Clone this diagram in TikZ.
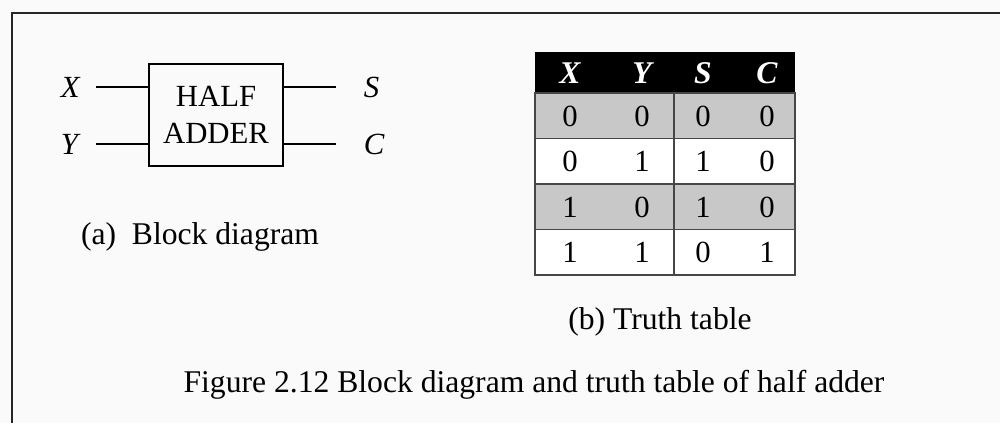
\documentclass[tikz,border=0pt]{standalone}
\usepackage{fontspec}
\setmainfont{Liberation Serif}
\usetikzlibrary{positioning}
\usetikzlibrary{calc}
\def\mysize{\fontsize{17.5}{21}\selectfont}
\def\capsize{\fontsize{18}{22}\selectfont}
\newcommand{\sig}[1]{\textit{#1}}
\definecolor{rowgray}{RGB}{200,200,200}
\definecolor{linegray}{RGB}{70,70,70}
\tikzset{
my text/.style={font=\mysize,inner sep=0pt},
frame/.style={line width=1.6pt,draw=black!85},
wire/.style={line width=1pt},
blk/.style={draw,line width=1.1pt,my text,align=center,
  minimum width=2.68cm,minimum height=2.04cm},
port/.style={my text},
tab line/.style={line width=1pt,draw=linegray},
head/.style={my text,text=white,font=\fontsize{18}{22}\selectfont\bfseries\itshape},
cell/.style={my text},
caption/.style={my text,font=\capsize,anchor=base},
}
\begin{document}
\begin{tikzpicture}[x=0.02cm,y=-0.02cm]
\useasboundingbox[fill=black!2] (0,0) rectangle (1000,423);
\draw[frame] (12,423) -- (12,13) -- (1000,13);
% (a) block diagram
\node[blk] (ha) at (216,115) {HALF\\ADDER};
\coordinate (xw) at ($(ha.west)+(-52,-28)$);
\coordinate (yw) at ($(ha.west)+(-52,29)$);
\coordinate (sw) at ($(ha.east)+(52,-28)$);
\coordinate (cw) at ($(ha.east)+(52,29)$);
\node[port,left=0.3cm of xw] (x) {\sig{X}};
\node[port,left=0.3cm of yw] (y) {\sig{Y}};
\node[port,right=0.55cm of sw] (s) {\sig{S}};
\node[port,right=0.55cm of cw] (c) {\sig{C}};
\draw[wire] (xw) -- (xw -| ha.west)
            (yw) -- (yw -| ha.west)
            (ha.east |- sw) -- (sw)
            (ha.east |- cw) -- (cw);
\node[caption] (capa) at (200,244) {(a)\ \ Block diagram};
% (b) truth table
\fill[black] (535,52) rectangle (795,93);
\foreach \r/\col in {0/rowgray,1/white,2/rowgray,3/white}
  \fill[\col] (535,93+45.5*\r) rectangle (795,138.5+45.5*\r);
\draw[tab line] (535,93) rectangle (795,275);
\foreach \r in {1,2,3}
  \draw[tab line] (535,93+45.5*\r) -- (795,93+45.5*\r);
\draw[tab line] (674,93) -- (674,275);
\foreach \n/\cx in {X/570,Y/642,S/703,C/767}
  \node[head] (h\n) at (\cx,73) {\n};
\foreach \r/\a/\b/\s/\c in {0/0/0/0/0,1/0/1/1/0,2/1/0/1/0,3/1/1/0/1}{
  \node[cell] (r\r-x) at (570,116+45.5*\r) {\a};
  \node[cell] (r\r-y) at (642,116+45.5*\r) {\b};
  \node[cell] (r\r-s) at (703,116+45.5*\r) {\s};
  \node[cell] (r\r-c) at (767,116+45.5*\r) {\c};
}
\node[caption] (capb) at (660,329) {(b) Truth table};
\node[caption] (fig) at (534,392) {Figure 2.12 Block diagram and truth table of half adder};
\end{tikzpicture}
\end{document}
